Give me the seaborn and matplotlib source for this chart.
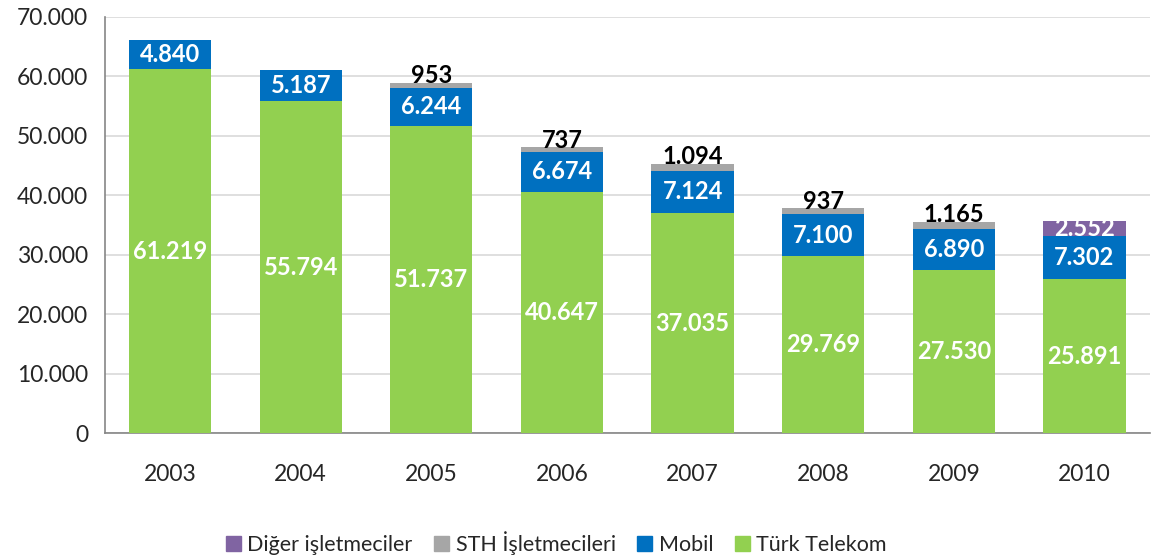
import matplotlib
matplotlib.use("Agg")
import matplotlib.pyplot as plt
import matplotlib.ticker as mticker
import seaborn as sns
import pandas as pd

# Veriler
years = ["2003", "2004", "2005", "2006", "2007", "2008", "2009", "2010"]
turk_telekom = [61219, 55794, 51737, 40647, 37035, 29769, 27530, 25891]
mobil = [4840, 5187, 6244, 6674, 7124, 7100, 6890, 7302]
sth = [0, 0, 953, 737, 1094, 937, 1165, 0]
diger = [0, 0, 0, 0, 0, 0, 0, 2552]

series = ["Türk Telekom", "Mobil", "STH İşletmecileri", "Diğer işletmeciler"]
colors = {"Türk Telekom": "#92D050", "Mobil": "#0070C0",
          "STH İşletmecileri": "#A6A6A6", "Diğer işletmeciler": "#8064A2"}

df = pd.DataFrame({"Yıl": years, "Türk Telekom": turk_telekom, "Mobil": mobil,
                   "STH İşletmecileri": sth, "Diğer işletmeciler": diger})

sns.set_style("white")
plt.rcParams["font.family"] = ["Lato", "DejaVu Sans"]


def tr_fmt(v):
    return f"{int(v):,}".replace(",", ".")


fig, ax = plt.subplots(figsize=(11.52, 5.6), dpi=100)
fig.subplots_adjust(left=0.091, right=0.998, top=0.97, bottom=0.226)

# Yığılmış çubuklar
bottom = pd.Series([0] * len(years))
for name in series:
    vals = df[name]
    sns.barplot(x=df["Yıl"], y=vals, bottom=bottom, color=colors[name], ax=ax,
                width=0.63, saturation=1, linewidth=0, zorder=3)
    for i, v in enumerate(vals):
        if v == 0:
            continue
        if name == "STH İşletmecileri":
            ax.annotate(tr_fmt(v), (i, bottom[i] + v),
                        xytext=(0, -3), textcoords="offset points",
                        ha="center", va="bottom", fontsize=17,
                        fontweight="bold", color="black", zorder=5)
        else:
            ax.text(i, bottom[i] + v / 2, tr_fmt(v),
                    ha="center", va="center", fontsize=17,
                    fontweight="bold", color="white", zorder=5)
    bottom = bottom + vals

ax.set_ylim(0, 70000)
ax.set_xlim(-0.5, len(years) - 0.5)
ax.yaxis.set_major_locator(mticker.MultipleLocator(10000))
ax.yaxis.set_major_formatter(mticker.FuncFormatter(lambda v, p: tr_fmt(v)))
ax.grid(axis="y", color="#D9D9D9", linewidth=1.2, zorder=0)
ax.set_axisbelow(True)
ax.set_xlabel("")
ax.set_ylabel("")

for s in ["top", "right"]:
    ax.spines[s].set_visible(False)
for s in ["left", "bottom"]:
    ax.spines[s].set_color("#868686")
    ax.spines[s].set_linewidth(1.2)

ax.set_xticks([i - 0.5 for i in range(len(years) + 1)], minor=True)
ax.tick_params(axis="x", which="major", length=0, labelsize=16.5, pad=22)
ax.tick_params(axis="x", which="minor", length=6, color="#868686", width=1.2)
ax.tick_params(axis="y", length=6, color="#868686", width=1.2, labelsize=16.5, pad=6)

handles = [plt.Rectangle((0, 0), 1, 1, color=colors[n]) for n in reversed(series)]
fig.legend(handles, list(reversed(series)), loc="lower center", ncol=4,
           bbox_to_anchor=(0.483, -0.025), frameon=False, fontsize=15.5,
           handlelength=0.7, handleheight=0.7, handletextpad=0.3, columnspacing=1.0)

fig.savefig("out.png", dpi=100)
